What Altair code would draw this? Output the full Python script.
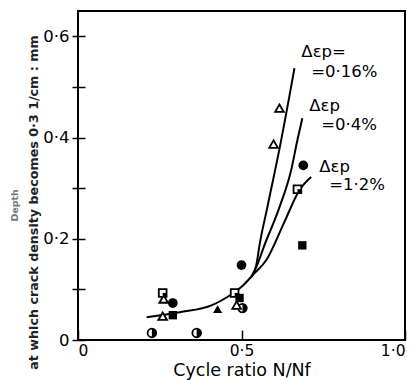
import altair as alt
import pandas as pd

# ---- data ----
# markers
half_circle_x = [0.226, 0.363, 0.503]
half_circle_y = [0.014, 0.014, 0.063]
open_tri_x = [0.259, 0.262, 0.485, 0.598, 0.616]
open_tri_y = [0.047, 0.081, 0.069, 0.387, 0.458]
filled_tri_x = [0.427]
filled_tri_y = [0.061]
half_square_x = [0.259, 0.479, 0.671]
half_square_y = [0.093, 0.093, 0.298]
filled_circle_x = [0.290, 0.500, 0.689]
filled_circle_y = [0.073, 0.148, 0.345]
filled_square_x = [0.290, 0.494, 0.686]
filled_square_y = [0.049, 0.083, 0.187]

# curves
curve_12_x = [0.21, 0.311, 0.41, 0.457, 0.50, 0.53, 0.54, 0.576, 0.631, 0.677, 0.713]
curve_12_y = [0.045, 0.055, 0.069, 0.085, 0.105, 0.125, 0.132, 0.158, 0.233, 0.296, 0.322]
curve_04_x = [0.53, 0.549, 0.570, 0.616, 0.652, 0.671, 0.686]
curve_04_y = [0.125, 0.150, 0.187, 0.262, 0.336, 0.395, 0.438]
curve_016_x = [0.53, 0.546, 0.555, 0.579, 0.619, 0.662]
curve_016_y = [0.125, 0.150, 0.187, 0.262, 0.387, 0.537]

# annotations
label_text = ["Δεp=", "=0·16%", "Δεp", "=0·4%", "Δεp", "=1·2%"]
label_x = [0.683, 0.713, 0.707, 0.744, 0.738, 0.768]
label_y = [0.560, 0.519, 0.452, 0.414, 0.332, 0.296]

y_ticks = [0, 0.1, 0.2, 0.3, 0.4, 0.5, 0.6]
x_ticks = [0, 0.5, 1.0]

FONT = "DejaVu Sans"

xs = alt.Scale(domain=[0, 1], nice=False, zero=False)
ys = alt.Scale(domain=[0, 0.65], nice=False, zero=False)

x_axis = alt.Axis(
    values=x_ticks, domain=False, grid=False, tickSize=10, offset=-10,
    tickColor="black", tickWidth=1.5,
    labelExpr="datum.value == 0 ? '0' : replace(format(datum.value, '.1f'), '.', '·')",
    labelFont=FONT, labelFontSize=15.5, labelColor="black", labelPadding=3,
    title="Cycle ratio N/Nf", titleFont=FONT, titleFontSize=17.5,
    titleFontWeight="normal", titleColor="black", titlePadding=3,
)
y_axis = alt.Axis(
    values=y_ticks, domain=False, grid=False, tickSize=13, offset=-7,
    tickColor="black", tickWidth=1.5,
    labelExpr="datum.value == 0 ? '0' : (round(datum.value*10) % 2 == 0 ? replace(format(datum.value, '.1f'), '.', '·') : '')",
    labelFont=FONT, labelFontSize=16.5, labelColor="black", labelPadding=3,
    title="at which crack density becomes 0·3 1/cm : mm", titleFont=FONT,
    titleFontSize=12.7, titleFontWeight="bold", titleColor="#222",
    titleX=-52, titleY=191, titleBaseline="middle", titleAlign="center",
    titleAngle=270,
)


def df(x, y):
    return pd.DataFrame({"x": x, "y": y})


def curve(x, y):
    return alt.Chart(df(x, y)).mark_line(
        color="black", strokeWidth=2, interpolate="monotone"
    ).encode(x=alt.X("x:Q", scale=xs, axis=x_axis), y=alt.Y("y:Q", scale=ys, axis=y_axis))


def pts(x, y, **kw):
    return alt.Chart(df(x, y)).mark_point(**kw).encode(
        x=alt.X("x:Q", scale=xs), y=alt.Y("y:Q", scale=ys)
    )


layers = [
    curve(curve_12_x, curve_12_y),
    curve(curve_04_x, curve_04_y),
    curve(curve_016_x, curve_016_y),
    # half-filled circles
    pts(half_circle_x, half_circle_y, shape="circle", size=75, fill="white",
        filled=False, stroke="black", strokeWidth=1.8, opacity=1, fillOpacity=1),
    pts(half_circle_x, half_circle_y, shape="M0,-1A1,1,0,0,1,0,1Z", size=75,
        filled=True, color="black", opacity=1),
    # open triangles
    pts(open_tri_x, open_tri_y, shape="triangle-up", size=75, fill="white",
        filled=False, stroke="black", strokeWidth=1.8, opacity=1, fillOpacity=1),
    # filled triangles
    pts(filled_tri_x, filled_tri_y, shape="triangle-up", size=85, filled=True,
        color="black", opacity=1),
    # half-filled squares
    pts(half_square_x, half_square_y, shape="square", size=60, fill="white",
        filled=False, stroke="black", strokeWidth=1.8, opacity=1, fillOpacity=1),
    pts(half_square_x, half_square_y, shape="M0,0H1V1H0Z", size=60,
        filled=True, color="black", opacity=1),
    # filled circles
    pts(filled_circle_x, filled_circle_y, shape="circle", size=95, filled=True,
        color="black", opacity=1),
    # filled squares
    pts(filled_square_x, filled_square_y, shape="square", size=70, filled=True,
        color="black", opacity=1),
]

labels = alt.Chart(pd.DataFrame({"x": label_x, "y": label_y, "t": label_text})).mark_text(
    align="left", baseline="alphabetic", font=FONT, fontSize=16.5, color="black"
).encode(x=alt.X("x:Q", scale=xs), y=alt.Y("y:Q", scale=ys), text="t:N")

depth = alt.Chart(pd.DataFrame({"x": [-0.192], "y": [0.266], "t": ["Depth"]})).mark_text(
    align="center", baseline="middle", angle=270, font=FONT, fontSize=9.5,
    fontWeight="bold", color="#777"
).encode(x=alt.X("x:Q", scale=xs), y=alt.Y("y:Q", scale=ys), text="t:N")

chart = alt.layer(*layers, labels, depth).properties(
    width=327, height=329,
    padding={"left": 78, "top": 11, "right": 12, "bottom": 40},
    autosize=alt.AutoSizeParams(type="none"),
    background="white",
).configure_view(stroke="black", strokeWidth=2)

chart.save("out.html", embed_options={"renderer": "svg", "actions": False})
